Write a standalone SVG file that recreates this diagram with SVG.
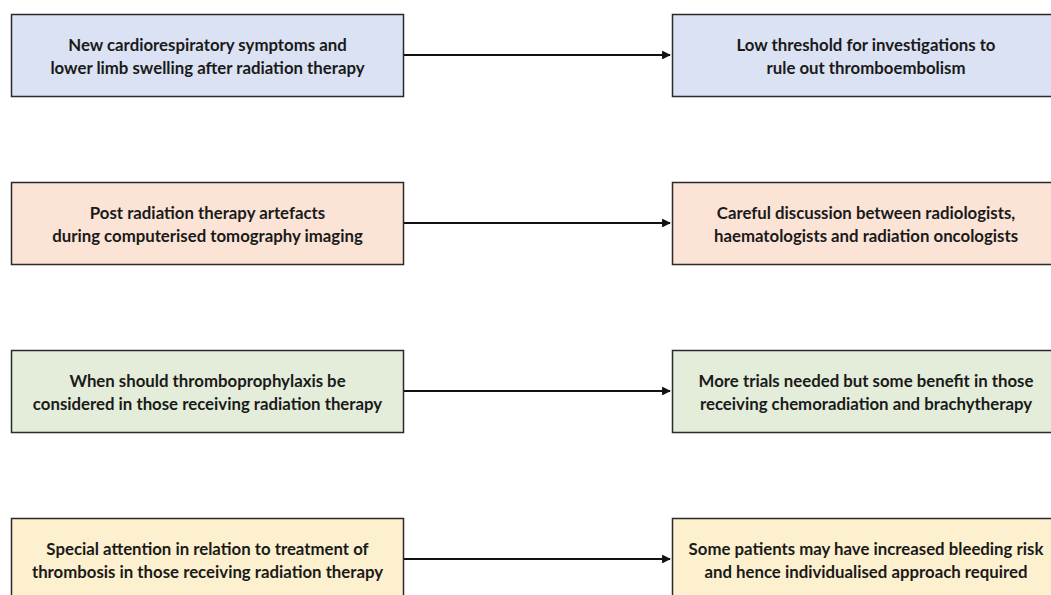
<svg xmlns="http://www.w3.org/2000/svg" width="1051" height="595" viewBox="0 0 1051 595">
<defs>
<style>
.box{stroke:#2a2a2a;stroke-width:1.5}
.b{fill:#dae2f3}.p{fill:#fbe3d6}.g{fill:#e3edd9}.y{fill:#fdf0cf}
text{font-family:Lato,"Liberation Sans",sans-serif;font-weight:bold;font-size:16.8px;fill:#1a1a1a;text-anchor:middle}
.c{stroke:#111;stroke-width:2.2;fill:none;marker-end:url(#ah)}
</style>
<marker id="ah" viewBox="0 0 10 10" refX="9" refY="5" markerWidth="4" markerHeight="4" orient="auto" markerUnits="strokeWidth">
<path d="M0,0 L10,5 L0,10 z" fill="#111"/>
</marker>
</defs>
<rect width="1051" height="595" fill="#fff"/>
<g id="connectors">
<line class="c" x1="404" y1="55" x2="670" y2="55"/>
<line class="c" x1="404" y1="223" x2="670" y2="223"/>
<line class="c" x1="404" y1="391" x2="670" y2="391"/>
<line class="c" x1="404" y1="559" x2="670" y2="559"/>
</g>
<g id="n1"><rect class="box b" x="11.5" y="14.5" width="392" height="82"/>
<text x="207.5" y="51">New cardiorespiratory symptoms and</text>
<text x="207.5" y="74">lower limb swelling after radiation therapy</text></g>
<g id="n2"><rect class="box b" x="672.5" y="14.5" width="390" height="82"/>
<text x="866" y="51">Low threshold for investigations to</text>
<text x="866" y="74">rule out thromboembolism</text></g>
<g id="n3"><rect class="box p" x="11.5" y="182.5" width="392" height="82"/>
<text x="207.5" y="219">Post radiation therapy artefacts</text>
<text x="207.5" y="242">during computerised tomography imaging</text></g>
<g id="n4"><rect class="box p" x="672.5" y="182.5" width="390" height="82"/>
<text x="866" y="219">Careful discussion between radiologists,</text>
<text x="866" y="242">haematologists and radiation oncologists</text></g>
<g id="n5"><rect class="box g" x="11.5" y="350.5" width="392" height="82"/>
<text x="207.5" y="387">When should thromboprophylaxis be</text>
<text x="207.5" y="410">considered in those receiving radiation therapy</text></g>
<g id="n6"><rect class="box g" x="672.5" y="350.5" width="390" height="82"/>
<text x="866" y="387">More trials needed but some benefit in those</text>
<text x="866" y="410">receiving chemoradiation and brachytherapy</text></g>
<g id="n7"><rect class="box y" x="11.5" y="518.5" width="392" height="82"/>
<text x="207.5" y="555">Special attention in relation to treatment of</text>
<text x="207.5" y="578">thrombosis in those receiving radiation therapy</text></g>
<g id="n8"><rect class="box y" x="672.5" y="518.5" width="390" height="82"/>
<text x="866" y="555">Some patients may have increased bleeding risk</text>
<text x="866" y="578">and hence individualised approach required</text></g>
</svg>
